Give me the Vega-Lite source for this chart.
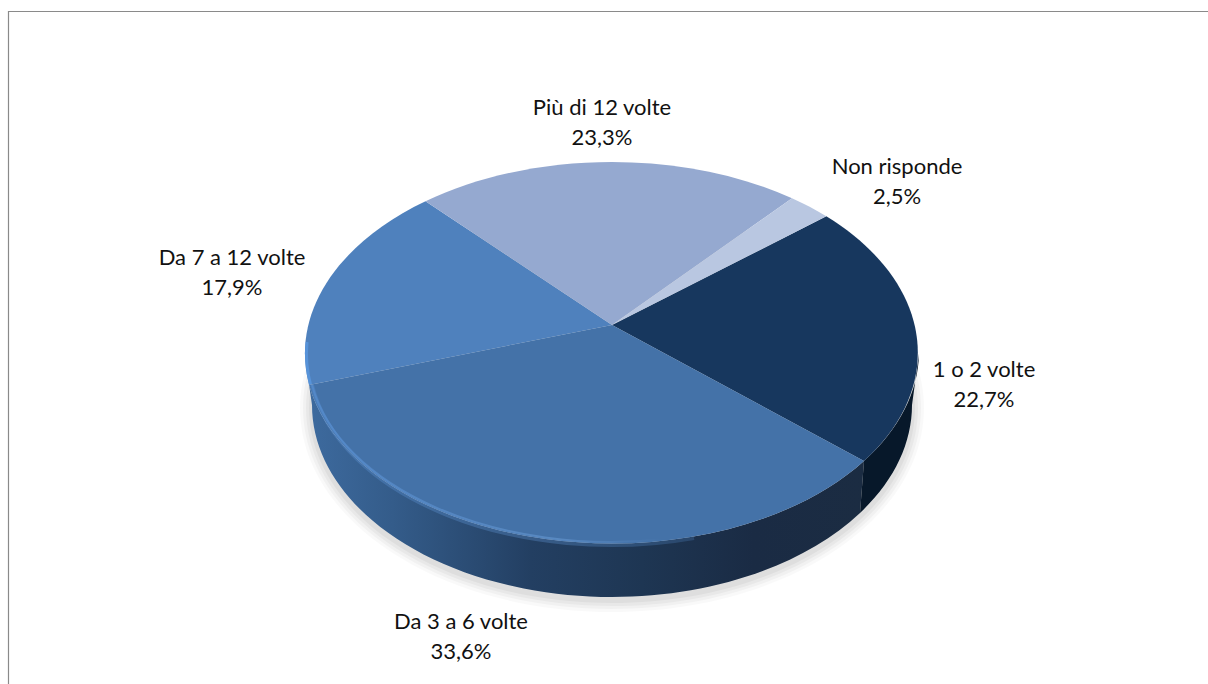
{"$schema":"https://vega.github.io/schema/vega-lite/v6.json","width":1208,"height":684,"autosize":{"type":"none"},"padding":0,"background":"white","config":{"view":{"stroke":null}},
"data":{"values":[
{"label":"1 o 2 volte","value":22.7,"pct":"22,7%"},
{"label":"Da 3 a 6 volte","value":33.6,"pct":"33,6%"},
{"label":"Da 7 a 12 volte","value":17.9,"pct":"17,9%"},
{"label":"Più di 12 volte","value":23.3,"pct":"23,3%"},
{"label":"Non risponde","value":2.5,"pct":"2,5%"}]},
"layer":[
{"data":{"values":[{"part":"frame"}]},"mark":{"type":"point","shape":"M-595.5,342L-595.5,-330.5L604,-330.5","size":4,"filled":false,"fill":"transparent","stroke":"#8a8a8a","strokeWidth":1.2,"opacity":1}},
{"data":{"values":[{"part":"shadow"}]},"mark":{"type":"point","shape":"M-304,66A312 204 0 1 1 320,66A312 204 0 1 1 -304,66Z","size":4,"filled":true,"fill":"#000000","stroke":null,"opacity":0.025}},
{"data":{"values":[{"part":"shadow"}]},"mark":{"type":"point","shape":"M-301,66A309 201 0 1 1 317,66A309 201 0 1 1 -301,66Z","size":4,"filled":true,"fill":"#000000","stroke":null,"opacity":0.03}},
{"data":{"values":[{"part":"shadow"}]},"mark":{"type":"point","shape":"M-298,66A306 198 0 1 1 314,66A306 198 0 1 1 -298,66Z","size":4,"filled":true,"fill":"#000000","stroke":null,"opacity":0.035}},
{"data":{"values":[{"part":"shadow"}]},"mark":{"type":"point","shape":"M-295,66A303 195 0 1 1 311,66A303 195 0 1 1 -295,66Z","size":4,"filled":true,"fill":"#000000","stroke":null,"opacity":0.04}},
{"transform":[{"filter":"datum.label==='Da 3 a 6 volte'"}],"mark":{"type":"point","shape":"M-294.9,42.9A307 191.5 0 0 0 260,119L256,171A300 192 0 0 1 -292,63Z","size":4,"filled":true,"stroke":null,"opacity":1,"fill":{"gradient":"linear","x1":0,"y1":0,"x2":1,"y2":0,"stops":[{"offset":0,"color":"#3d6a9e"},{"offset":0.15,"color":"#345c8a"},{"offset":0.4,"color":"#233f62"},{"offset":0.6,"color":"#1e3653"},{"offset":0.8,"color":"#1a2b44"},{"offset":1,"color":"#1b2c42"}]}}},
{"transform":[{"filter":"datum.label==='1 o 2 volte'"}],"mark":{"type":"point","shape":"M260,119A307 191.5 0 0 0 315,11.5L308,63A300 192 0 0 1 256,171Z","size":4,"filled":true,"stroke":null,"opacity":1,"fill":"#07182a"}},
{"mark":{"type":"point","size":4,"filled":true,"stroke":null,"opacity":1},
"encoding":{
"shape":{"field":"label","type":"nominal","legend":null,"scale":{"domain":["1 o 2 volte","Da 3 a 6 volte","Da 7 a 12 volte","Più di 12 volte","Non risponde"],"range":["M8,-17L222.3,-125.7A307 191.5 0 0 1 260,119Z","M8,-17L260,119A307 191.5 0 0 1 -294.9,42.9Z","M8,-17L-294.9,42.9A307 191.5 0 0 1 -178.5,-140.7Z","M8,-17L-178.5,-140.7A307 191.5 0 0 1 188,-143.7Z","M8,-17L188,-143.7A307 191.5 0 0 1 222.3,-125.7Z"]}},
"color":{"field":"label","type":"nominal","legend":null,"scale":{"domain":["1 o 2 volte","Da 3 a 6 volte","Da 7 a 12 volte","Più di 12 volte","Non risponde"],"range":["#17375e","#4472a8","#4f81bd","#95a9d0","#b9c7e1"]}}}},
{"data":{"values":[{"part":"bevel"}]},"mark":{"type":"point","shape":"M-292,43A303 188 0 0 0 90,196","size":4,"filled":false,"fill":"transparent","strokeWidth":4,"opacity":0.35,"stroke":{"gradient":"linear","x1":0,"y1":0,"x2":1,"y2":0,"stops":[{"offset":0,"color":"#5a92d6"},{"offset":0.6,"color":"#5f93d0"},{"offset":1,"color":"#4472a8"}]}}},
{"data":{"values":[{"part":"bevel"}]},"mark":{"type":"point","shape":"M-292,43A303 188 0 0 0 60,197","size":4,"filled":false,"fill":"transparent","strokeWidth":2,"opacity":0.55,"stroke":{"gradient":"linear","x1":0,"y1":0,"x2":1,"y2":0,"stops":[{"offset":0,"color":"#5a92d6"},{"offset":0.7,"color":"#6a9cd6"},{"offset":1,"color":"#4472a8"}]}}},
{"data":{"values":[{"part":"bevel"}]},"mark":{"type":"point","shape":"M-293.5,42.5A305.5 190 0 0 1 -297,0","size":4,"filled":false,"fill":"transparent","strokeWidth":3,"opacity":0.8,"stroke":"#5a98e0"}},
{"mark":{"type":"text","dy":-15,"font":"Lato","fontSize":22,"color":"#111111","align":"center","baseline":"middle"},
"encoding":{"text":{"field":"label"},
"x":{"field":"value","type":"quantitative","axis":null,"scale":{"domain":[2.5,17.9,22.7,23.3,33.6],"range":[897,232,984,602,461],"zero":false,"nice":false}},
"y":{"field":"value","type":"quantitative","axis":null,"scale":{"domain":[2.5,17.9,22.7,23.3,33.6],"range":[182,273,385,123,636.5],"zero":false,"nice":false}}}},
{"mark":{"type":"text","dy":15,"font":"Lato","fontSize":22,"color":"#111111","align":"center","baseline":"middle"},
"encoding":{"text":{"field":"pct"},
"x":{"field":"value","type":"quantitative","axis":null},
"y":{"field":"value","type":"quantitative","axis":null}}}
]}
